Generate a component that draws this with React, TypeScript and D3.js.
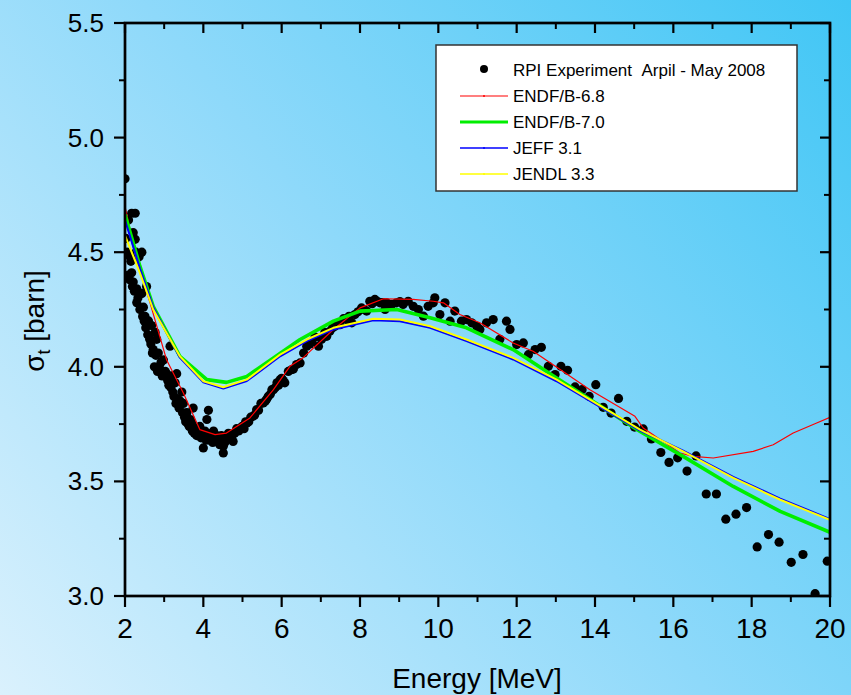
import React from "react";
import * as d3 from "d3";

// Experimental data: RPI Experiment April - May 2008
const expE = [
  2.00, 2.02, 2.05, 2.09, 2.09, 2.12, 2.13, 2.15, 2.17, 2.17, 2.19, 2.21, 2.21, 2.24, 2.26, 2.26, 2.28, 2.30, 2.30, 2.33,
  2.36, 2.38, 2.40, 2.43, 2.43, 2.45, 2.47, 2.49, 2.51, 2.53, 2.55, 2.55, 2.58, 2.60, 2.63, 2.66, 2.68, 2.70, 2.72, 2.75,
  2.77, 2.79, 2.81, 2.83, 2.85, 2.87, 2.89, 2.92, 2.95, 2.98, 3.00, 3.03, 3.06, 3.09, 3.12, 3.15, 3.17, 3.19, 3.22, 3.25,
  3.28, 3.30, 3.32, 3.35, 3.38, 3.41, 3.45, 3.47, 3.49, 3.52, 3.55, 3.58, 3.61, 3.64, 3.67, 3.70, 3.72, 3.74, 3.77, 3.80,
  3.83, 3.86, 3.91, 3.94, 3.97, 4.00, 4.00, 4.04, 4.07, 4.09, 4.13, 4.15, 4.17, 4.21, 4.24, 4.26, 4.30, 4.34, 4.38, 4.42,
  4.46, 4.51, 4.51, 4.55, 4.59, 4.64, 4.68, 4.72, 4.76, 4.80, 4.85, 4.90, 4.94, 4.99, 5.04, 5.08, 5.11, 5.16, 5.21, 5.27,
  5.31, 5.36, 5.41, 5.47, 5.53, 5.58, 5.62, 5.66, 5.71, 5.75, 5.79, 5.84, 5.88, 5.92, 5.96, 6.00, 6.04, 6.08, 6.17, 6.26,
  6.30, 6.38, 6.47, 6.56, 6.64, 6.72, 6.77, 6.85, 6.94, 7.02, 7.10, 7.15, 7.23, 7.30, 7.36, 7.43, 7.49, 7.58, 7.66, 7.72,
  7.79, 7.87, 7.95, 8.04, 8.10, 8.17, 8.25, 8.31, 8.38, 8.45, 8.51, 8.58, 8.64, 8.68, 8.75, 8.81, 8.93, 9.02, 9.10, 9.23,
  9.36, 9.49, 9.62, 9.74, 9.87, 9.91, 10.04, 10.17, 10.30, 10.42, 10.59, 10.72, 10.85, 10.98, 11.06, 11.23, 11.40, 11.57, 11.74, 11.83,
  12.00, 12.17, 12.30, 12.47, 12.63, 12.81, 12.98, 13.13, 13.30, 13.49, 13.67, 13.85, 14.02, 14.21, 14.41, 14.60, 14.81, 15.01, 15.23, 15.44,
  15.68, 15.89, 16.11, 16.35, 16.58, 16.84, 17.10, 17.34, 17.60, 17.87, 18.14, 18.43, 18.70, 19.01, 19.31, 19.62, 19.93,
];
const expSigma = [
  4.82, 4.56, 4.50, 4.64, 4.40, 4.38, 4.48, 4.46, 4.67, 4.41, 4.35, 4.585, 4.37, 4.33, 4.67, 4.556, 4.50, 4.34, 4.28, 4.30,
  4.48, 4.25, 4.32, 4.50, 4.32, 4.22, 4.26, 4.20, 4.22, 4.17, 4.35, 4.18, 4.14, 4.20, 4.12, 4.10, 4.18, 4.06, 4.075, 4.00,
  4.15, 4.05, 4.12, 3.98, 4.06, 4.00, 3.99, 4.02, 3.96, 4.03, 3.97, 3.98, 3.97, 3.94, 3.92, 4.09, 3.91, 3.96, 3.89, 3.87,
  3.93, 3.84, 3.97, 3.86, 3.82, 3.85, 3.89, 3.80, 3.84, 3.78, 3.76, 3.80, 3.75, 3.74, 3.77, 3.755, 3.72, 3.82, 3.71, 3.73,
  3.70, 3.72, 3.74, 3.69, 3.71, 3.70, 3.646, 3.72, 3.68, 3.77, 3.81, 3.70, 3.68, 3.71, 3.67, 3.72, 3.69, 3.70, 3.68, 3.66,
  3.70, 3.653, 3.624, 3.67, 3.69, 3.71, 3.70, 3.69, 3.674, 3.71, 3.73, 3.72, 3.726, 3.74, 3.73, 3.76, 3.755, 3.76, 3.78, 3.784,
  3.79, 3.813, 3.81, 3.84, 3.842, 3.85, 3.86, 3.871, 3.88, 3.90, 3.90, 3.91, 3.93, 3.92, 3.944, 3.95, 3.94, 3.93, 3.98, 3.988,
  3.99, 4.01, 4.017, 4.06, 4.09, 4.10, 4.11, 4.13, 4.09, 4.12, 4.15, 4.133, 4.155, 4.17, 4.177, 4.19, 4.184, 4.21, 4.206, 4.22,
  4.192, 4.228, 4.24, 4.257, 4.25, 4.243, 4.286, 4.275, 4.294, 4.285, 4.279, 4.28, 4.25, 4.279, 4.27, 4.272, 4.279, 4.285, 4.272, 4.286,
  4.264, 4.25, 4.221, 4.264, 4.279, 4.301, 4.228, 4.279, 4.199, 4.243, 4.199, 4.206, 4.192, 4.177, 4.163, 4.192, 4.206, 4.12, 4.199, 4.163,
  4.097, 4.104, 4.053, 4.075, 4.085, 4.002, 3.966, 4.002, 3.985, 3.912, 3.90, 3.871, 3.922, 3.823, 3.798, 3.862, 3.762, 3.737, 3.729, 3.685,
  3.626, 3.583, 3.603, 3.545, 3.611, 3.445, 3.445, 3.335, 3.357, 3.386, 3.214, 3.268, 3.235, 3.147, 3.181, 3.010, 3.152,
];

// ENDF/B-6.8
const endf68E = [2.0, 2.3, 2.64, 3.06, 3.49, 3.91, 4.3, 4.59, 5.19, 5.79, 6.21, 6.55, 7.32, 8.0, 8.6, 9.36, 9.87, 10.13, 10.55, 11.06, 11.91, 12.42, 13.11, 13.87, 15.02, 15.23, 16.17, 16.51, 17.02, 18.04, 18.55, 19.06, 19.66, 20.0];
const endf68S = [4.7, 4.46, 4.279, 4.031, 3.886, 3.726, 3.704, 3.711, 3.777, 3.9, 4.002, 4.04, 4.163, 4.257, 4.297, 4.294, 4.286, 4.279, 4.228, 4.192, 4.104, 4.068, 3.988, 3.9, 3.784, 3.733, 3.624, 3.609, 3.602, 3.631, 3.66, 3.711, 3.755, 3.78];

// ENDF/B-7.0
const endf70E = [2.0, 2.38, 2.72, 3.4, 4.09, 4.59, 5.11, 5.79, 6.47, 7.32, 8.0, 8.94, 9.79, 10.72, 11.91, 13.02, 15.15, 16.25, 17.53, 18.73, 20.0];
const endf70S = [4.665, 4.439, 4.264, 4.046, 3.944, 3.932, 3.958, 4.039, 4.119, 4.199, 4.243, 4.25, 4.214, 4.17, 4.075, 3.951, 3.718, 3.609, 3.478, 3.369, 3.278];

// JEFF 3.1
const jeffE = [2.0, 2.38, 2.72, 3.4, 4.0, 4.51, 5.11, 5.96, 6.64, 7.32, 8.34, 9.02, 9.79, 10.72, 11.91, 13.02, 15.15, 16.25, 17.53, 18.73, 20.0];
const jeffS = [4.64, 4.43, 4.26, 4.04, 3.932, 3.905, 3.938, 4.046, 4.112, 4.163, 4.203, 4.199, 4.17, 4.112, 4.032, 3.937, 3.722, 3.634, 3.52, 3.425, 3.336];

// JENDL 3.3
const jendlE = [2.0, 2.38, 2.72, 3.4, 4.0, 4.51, 5.11, 5.96, 6.64, 7.32, 8.34, 9.02, 9.79, 10.72, 11.91, 13.02, 15.15, 16.25, 17.53, 18.73, 20.0];
const jendlS = [4.573, 4.41, 4.25, 4.046, 3.937, 3.911, 3.944, 4.053, 4.119, 4.17, 4.21, 4.206, 4.177, 4.119, 4.039, 3.944, 3.726, 3.631, 3.515, 3.42, 3.332];

const xMajor = [2, 4, 6, 8, 10, 12, 14, 16, 18, 20];
const xMinor = [3, 5, 7, 9, 11, 13, 15, 17, 19];
const yMajor = [3.0, 3.5, 4.0, 4.5, 5.0, 5.5];
const yMinor = [3.25, 3.75, 4.25, 4.75, 5.25];

const legendLabels = ["RPI Experiment\u00a0\u00a0Arpil - May 2008", "ENDF/B-6.8", "ENDF/B-7.0", "JEFF 3.1", "JENDL 3.3"];

const W = 851;
const H = 695;
const L = 125;
const R = 830;
const T = 23;
const B = 596;
const FONT = "'Liberation Sans', Arial, sans-serif";

export default function App() {
  const x = d3.scaleLinear().domain([2, 20]).range([L, R]);
  const y = d3.scaleLinear().domain([3.0, 5.5]).range([B, T]);

  const mk = (E: number[], S: number[]) =>
    d3.line<number>().x((_, i) => x(E[i])).y((_, i) => y(S[i]))(E) || "";

  const series = [
    { d: mk(endf68E, endf68S), color: "#ff0000", w: 1.2 },
    { d: mk(endf70E, endf70S), color: "#00ee00", w: 3.6 },
    { d: mk(jeffE, jeffS), color: "#0000ff", w: 2 },
    { d: mk(jendlE, jendlS), color: "#ffff00", w: 2 },
  ];

  const legX = 436, legY = 45, legW = 361, legH = 146;
  const rowY = [70, 96, 122, 148, 174];
  const legColors = ["#000", "#ff0000", "#00ee00", "#0000ff", "#ffff00"];
  const legWidths = [0, 1.2, 3.2, 1.5, 1.5];

  return (
    <svg width={W} height={H} style={{ position: "absolute", left: 0, top: 0, display: "block" }}>
      <defs>
        <linearGradient id="bg" gradientUnits="userSpaceOnUse" x1={0} y1={H} x2={W} y2={0}>
          <stop offset="0" stopColor="#daf1fd" />
          <stop offset="0.5" stopColor="#8ed9fa" />
          <stop offset="1" stopColor="#40c6f5" />
        </linearGradient>
        <clipPath id="plotClip">
          <rect x={L} y={T} width={R - L} height={B - T} />
        </clipPath>
      </defs>
      <rect x={0} y={0} width={W} height={H} fill="url(#bg)" />

      <g clipPath="url(#plotClip)">
        {expE.map((e, i) => (
          <circle key={i} cx={x(e)} cy={y(expSigma[i])} r={4.6} fill="#000" />
        ))}
        {series.map((s, i) => (
          <path key={i} d={s.d} fill="none" stroke={s.color} strokeWidth={s.w} strokeLinejoin="round" />
        ))}
      </g>

      {/* frame */}
      <rect x={L} y={T} width={R - L} height={B - T} fill="none" stroke="#000" strokeWidth={2.7} />

      {/* bottom ticks (outward) and top ticks (inward) */}
      {xMajor.map((v) => (
        <g key={"xM" + v}>
          <line x1={x(v)} x2={x(v)} y1={B} y2={B + 11} stroke="#000" strokeWidth={2.2} />
          <line x1={x(v)} x2={x(v)} y1={T} y2={T + 10} stroke="#000" strokeWidth={2.2} />
          <text x={x(v)} y={638} textAnchor="middle" fontFamily={FONT} fontSize={28} fill="#000">
            {v}
          </text>
        </g>
      ))}
      {xMinor.map((v) => (
        <g key={"xm" + v}>
          <line x1={x(v)} x2={x(v)} y1={B} y2={B + 6} stroke="#000" strokeWidth={2} />
          <line x1={x(v)} x2={x(v)} y1={T} y2={T + 6} stroke="#000" strokeWidth={2} />
        </g>
      ))}

      {/* left ticks (outward) and right ticks (inward) */}
      {yMajor.map((v) => (
        <g key={"yM" + v}>
          <line x1={L - 11} x2={L} y1={y(v)} y2={y(v)} stroke="#000" strokeWidth={2.2} />
          <line x1={R - 10} x2={R} y1={y(v)} y2={y(v)} stroke="#000" strokeWidth={2.2} />
          <text x={104} y={y(v) + 9} textAnchor="end" fontFamily={FONT} fontSize={26} fill="#000">
            {v.toFixed(1)}
          </text>
        </g>
      ))}
      {yMinor.map((v) => (
        <g key={"ym" + v}>
          <line x1={L - 6} x2={L} y1={y(v)} y2={y(v)} stroke="#000" strokeWidth={2} />
          <line x1={R - 6} x2={R} y1={y(v)} y2={y(v)} stroke="#000" strokeWidth={2} />
        </g>
      ))}

      {/* axis titles */}
      <text x={477} y={688} textAnchor="middle" fontFamily={FONT} fontSize={28} fill="#000">
        Energy [MeV]
      </text>
      <text
        transform="translate(44,321) rotate(-90)"
        textAnchor="middle"
        fontFamily={FONT}
        fontSize={28}
        fill="#000"
      >
        σ
        <tspan fontSize={18} dy={6}>t</tspan>
        <tspan dy={-6}> [barn]</tspan>
      </text>

      {/* legend */}
      <rect x={legX} y={legY} width={legW} height={legH} fill="#fff" stroke="#333" strokeWidth={1.5} />
      {legendLabels.map((lab, i) => (
        <g key={lab}>
          {i === 0 ? (
            <circle cx={484} cy={rowY[i] - 1} r={4} fill="#000" />
          ) : (
            <g>
              <line x1={460} x2={508} y1={rowY[i]} y2={rowY[i]} stroke={legColors[i]} strokeWidth={legWidths[i]} />
              <circle cx={484} cy={rowY[i]} r={1} fill={legColors[i]} />
            </g>
          )}
          <text x={513} y={rowY[i] + 6} fontFamily={FONT} fontSize={17} fill="#000">
            {lab}
          </text>
        </g>
      ))}
    </svg>
  );
}
